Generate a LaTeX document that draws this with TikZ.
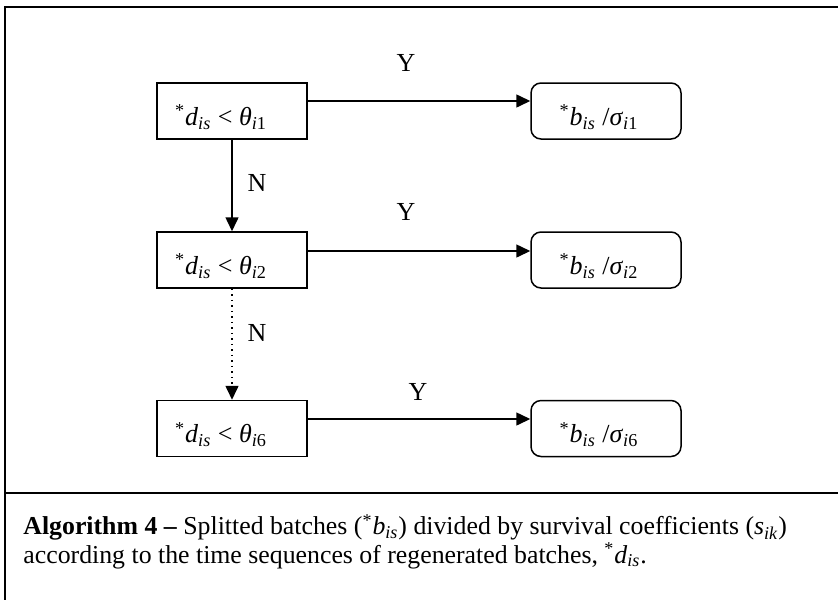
\documentclass[tikz,border=0pt]{standalone}
\usepackage{fontspec}
\setmainfont{Liberation Serif}
\usetikzlibrary{arrows.meta}
\newcommand{\condtxt}[1]{\raisebox{-3pt}[\height][\depth]{\textsuperscript{*}\textit{d}\textsubscript{\textit{is}} < \textit{θ}\textsubscript{\textit{i}#1}}\hspace*{11pt}}
\newcommand{\restxt}[1]{\raisebox{-3pt}[\height][\depth]{\textsuperscript{*}\textit{b}\textsubscript{\textit{is}} /\textit{σ}\textsubscript{\textit{i}#1}}\hspace*{7pt}}
\begin{document}
\begin{tikzpicture}[x=0.5pt,y=-0.5pt,
  frame/.style={line width=1pt},
  condbox/.style={draw,line width=0.75pt,minimum width=75pt,minimum height=28pt,inner sep=0pt,font=\fontsize{13}{15}\selectfont},
  resbox/.style={draw,line width=0.75pt,rounded corners=5pt,minimum width=75pt,minimum height=28pt,inner sep=0pt,font=\fontsize{13}{15}\selectfont},
  lab/.style={font=\fontsize{13}{15}\selectfont,inner sep=0pt},
  arr/.style={line width=0.75pt,-{Triangle[length=7pt,width=6.5pt]}}
]
\useasboundingbox (0,0) rectangle (838,600);
\fill[white] (0,0) rectangle (838,600);
\coordinate (ftr) at (838,7);
\coordinate (ftl) at (5,7);
\coordinate (fbl) at (5,600);
\coordinate (dl) at (5,493);
\coordinate (dr) at (838,493);
\draw[frame] (ftr) -- (ftl) -- (fbl);
\draw[frame] (dl) -- (dr);

\node[condbox] (b1) at (232,111) {\condtxt{1}};
\node[condbox] (b2) at (232,260) {\condtxt{2}};
\node[condbox] (b3) at (232,428.5) {\condtxt{6}};
\node[resbox] (r1) at (606,111) {\restxt{1}};
\node[resbox] (r2) at (606,260) {\restxt{2}};
\node[resbox] (r3) at (606,428.5) {\restxt{6}};

\draw[arr] ([yshift=5pt]b1.east) -- ([yshift=5pt]r1.west);
\draw[arr] ([yshift=4.5pt]b2.east) -- ([yshift=4.5pt]r2.west);
\draw[arr] ([yshift=4.75pt]b3.east) -- ([yshift=4.75pt]r3.west);
\draw[arr] (b1.south) -- (b2.north);
\draw[arr,dotted] (b2.south) -- (b3.north);

\node[lab] (y1) at (406,63) {Y};
\node[lab] (y2) at (406,212) {Y};
\node[lab] (y3) at (418,392) {Y};
\node[lab] (n1) at (257,183) {N};
\node[lab] (n2) at (257,333) {N};

\node[anchor=north west,inner sep=0pt,align=left,font=\fontsize{12.9}{12.5}\selectfont] (cap) at (23,514)
{\textbf{Algorithm 4 –} Splitted batches (\textsuperscript{*}\textit{b}\textsubscript{\textit{is}}) divided by survival coefficients (\textit{s}\textsubscript{\textit{ik}})\\
according to the time sequences of regenerated batches, \textsuperscript{*}\textit{d}\textsubscript{\textit{is}}.};
\end{tikzpicture}
\end{document}
